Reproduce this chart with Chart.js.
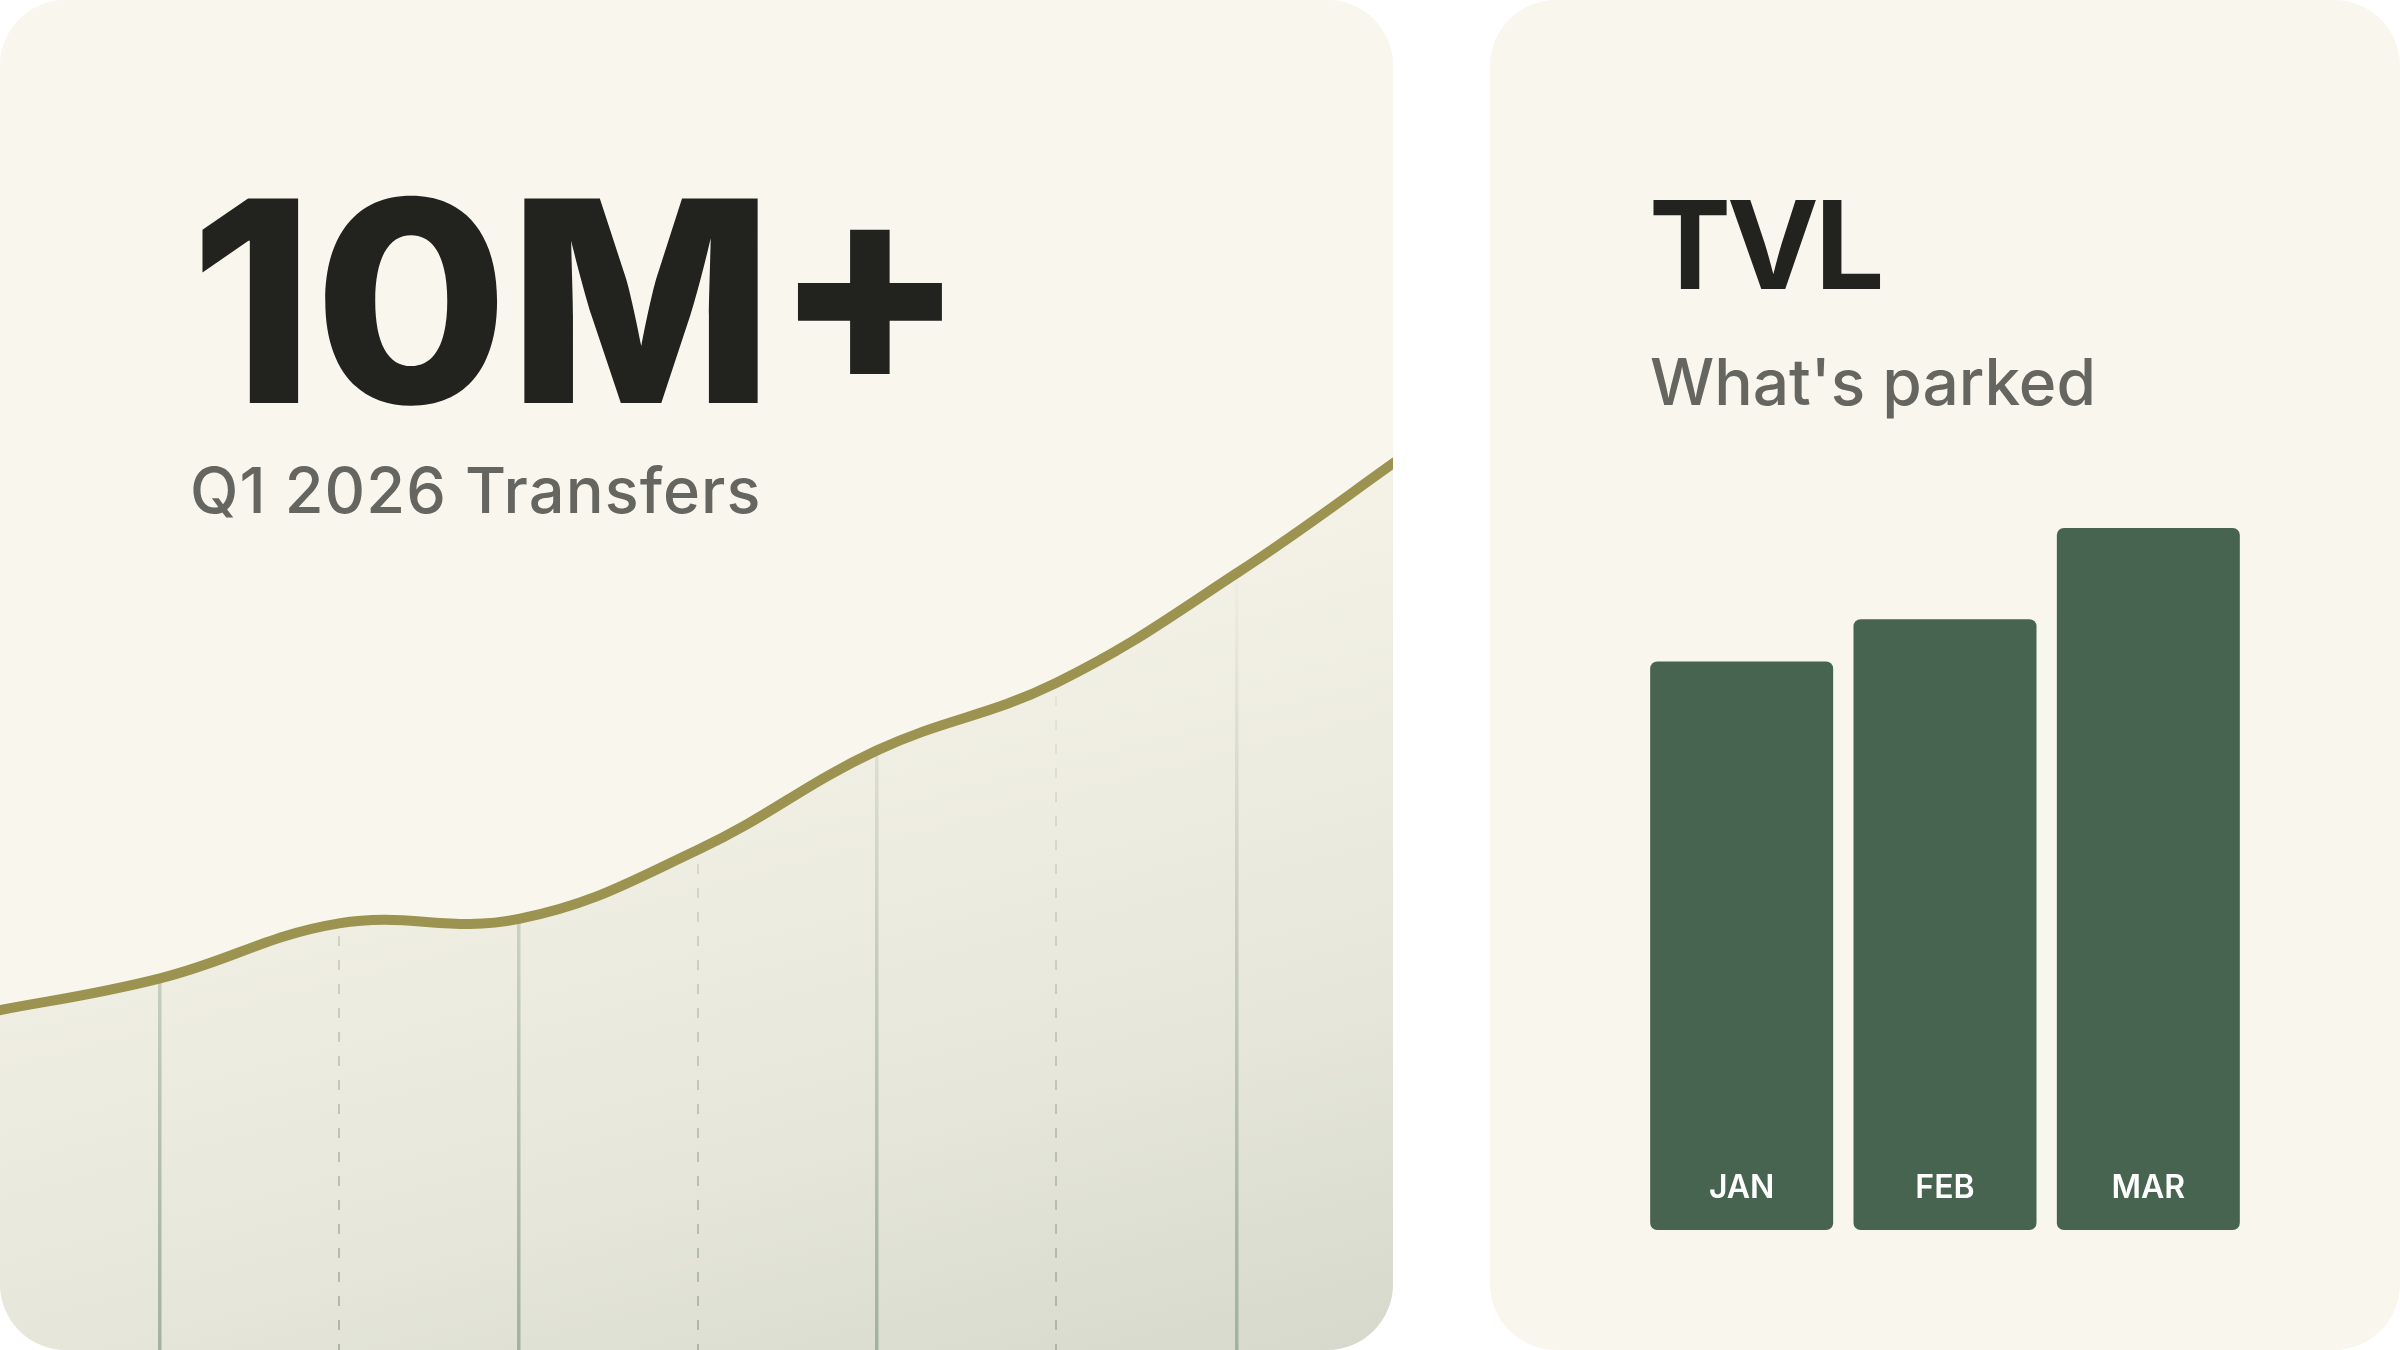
<!DOCTYPE html>
<html>
<head>
<meta charset="utf-8">
<title>Q1 2026 Transfers / TVL</title>
<script src="https://cdn.jsdelivr.net/npm/chart.js@4.4.1/dist/chart.umd.min.js"></script>
<style>
  html, body { margin: 0; padding: 0; background: #ffffff; }
  body { width: 2400px; height: 1350px; position: relative; overflow: hidden; font-family: Inter, "Noto Sans", sans-serif; }
  .card { position: absolute; top: 0; height: 1350px; background: #f9f7ed; border-radius: 66px; overflow: hidden; }
  #left { left: 0; width: 1393px; }
  #right { left: 1490px; width: 910px; }
  .card canvas { position: absolute; left: 0; top: 0; }
  .txt { position: absolute; line-height: 1; white-space: nowrap; z-index: 2; }
  .big { font-weight: 700; color: #22221e; }
  .sub { font-weight: 500; color: #666661; }
</style>
</head>
<body>
<div class="card" id="left">
  <canvas id="transfers_chart" width="1393" height="1350"></canvas>
  <div class="txt big" style="left:190px; top:161px; font-size:281px; font-weight:800; letter-spacing:0px;">10M+</div>
  <div class="txt sub" style="left:190px; top:459px; font-size:63px; letter-spacing:1.1px;">Q1 2026 Transfers</div>
</div>
<div class="card" id="right">
  <canvas id="tvl_chart" width="910" height="1350"></canvas>
  <div class="txt big" style="left:159px; top:183px; font-size:123px; letter-spacing:-4px;">TVL</div>
  <div class="txt sub" style="left:160px; top:350px; font-size:64px;">What's parked</div>
</div>
<script>
// day of the quarter for each point on the transfers line (first and last sit just past the card edges)
var transferDays = [-1.26, 10.34, 21.9, 33.53, 45.1, 56.66, 68.23, 79.92, 91.49];
// cumulative transfers, millions
var transferValues = [3.79, 4.19, 4.81, 4.86, 5.64, 6.76, 7.52, 8.76, 10.18];
// vertical guide lines drop from the inner points
var guideDays = transferDays.slice(1, -1);

var tvlMonths = ["JAN", "FEB", "MAR"];
var tvlValues = [2.43, 2.61, 3.0];

var cream = "#f9f7ed";

// diagonal shade under the line
var areaShade = {
  id: "areaShade",
  beforeDraw: function (chart) {
    var a = chart.chartArea;
    var ctx = chart.ctx;
    var g = ctx.createLinearGradient(
      a.left + a.width * 0.5025, a.top + a.height * 0.485,
      a.left + a.width * 0.652, a.top + a.height * 1.084
    );
    g.addColorStop(0, "#f4f2e7");
    g.addColorStop(0.6, "#e6e6da");
    g.addColorStop(1, "#d7d9cd");
    ctx.save();
    ctx.fillStyle = g;
    ctx.fillRect(a.left, a.top, a.width, a.height);
    ctx.restore();
  },
};

function guideColor(c) {
  var a = c.chart.chartArea;
  if (!a) return "rgba(0,0,0,0)";
  var g = c.chart.ctx.createLinearGradient(0, a.top + a.height * 0.4, 0, a.bottom);
  if (c.index % 2 === 0) {
    g.addColorStop(0, "rgba(160,175,156,0)");
    g.addColorStop(1, "rgba(160,175,156,0.95)");
  } else {
    g.addColorStop(0, "rgba(172,175,165,0)");
    g.addColorStop(1, "rgba(172,175,165,0.9)");
  }
  return g;
}

var ctx = document.getElementById("transfers_chart").getContext("2d");
var transfers_chart = new Chart(ctx, {
  type: "line",
  data: {
    datasets: [
      {
        label: "Transfers",
        data: transferDays.map(function (d, i) { return { x: d, y: transferValues[i] }; }),
        borderColor: "#9b934f",
        borderWidth: 10,
        backgroundColor: cream,
        fill: "end",
        tension: 0.4,
        pointRadius: 0,
      },
    ],
  },
  options: {
    responsive: false,
    animation: false,
    layout: { padding: 0 },
    scales: {
      x: {
        type: "linear",
        min: 0,
        max: 90,
        afterBuildTicks: function (scale) {
          scale.ticks = guideDays.map(function (d) { return { value: d }; });
        },
        ticks: { display: false },
        grid: {
          drawTicks: false,
          color: guideColor,
          lineWidth: function (c) { return c.index % 2 === 0 ? 3.5 : 2; },
        },
        border: {
          display: false,
          dash: function (c) { return c.index % 2 === 0 ? [] : [10, 14]; },
        },
      },
      y: { display: false, min: 0, max: 15.22 },
    },
    plugins: {
      legend: { display: false },
      tooltip: { enabled: false },
    },
  },
  plugins: [areaShade],
});

// month names inside the bars
var barLabels = {
  id: "barLabels",
  afterDatasetsDraw: function (chart) {
    var c = chart.ctx;
    var meta = chart.getDatasetMeta(0);
    c.save();
    c.font = "600 32px Inter";
    c.fillStyle = "#ffffff";
    c.textAlign = "center";
    c.textBaseline = "alphabetic";
    meta.data.forEach(function (bar, i) {
      c.fillText(chart.data.labels[i], bar.x, bar.base - 32);
    });
    c.restore();
  },
};

var ctx2 = document.getElementById("tvl_chart").getContext("2d");
var tvl_chart = new Chart(ctx2, {
  type: "bar",
  data: {
    labels: tvlMonths,
    datasets: [
      {
        label: "TVL",
        data: tvlValues,
        backgroundColor: "#476450",
        borderRadius: 7,
        borderSkipped: false,
        barPercentage: 0.9,
        categoryPercentage: 1,
      },
    ],
  },
  options: {
    responsive: false,
    animation: false,
    layout: { padding: { left: 150, right: 150, top: 528, bottom: 120 } },
    scales: {
      x: { display: false },
      y: { display: false, min: 0, max: 3.0 },
    },
    plugins: {
      legend: { display: false },
      tooltip: { enabled: false },
    },
  },
  plugins: [barLabels],
});
</script>
</body>
</html>
